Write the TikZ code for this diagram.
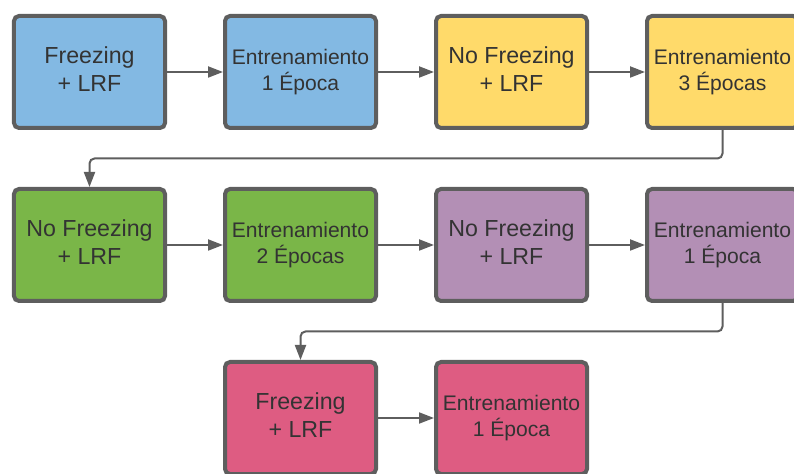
\documentclass[tikz,border=0pt]{standalone}
\usepackage{fontspec}
\setmainfont{Liberation Sans}
\usetikzlibrary{arrows.meta,positioning}
\definecolor{edgegray}{HTML}{5E5E5E}
\definecolor{textgray}{HTML}{333333}
\definecolor{stepblue}{HTML}{83B9E3}
\definecolor{stepyellow}{HTML}{FFDA6A}
\definecolor{stepgreen}{HTML}{7AB648}
\definecolor{steppurple}{HTML}{B38FB5}
\definecolor{steppink}{HTML}{DE5C82}

\begin{document}
\begin{tikzpicture}[node distance=1.14cm and 1.12cm,
  block/.style={draw=edgegray,line width=0.08cm,rounded corners=0.1cm,minimum width=3.02cm,minimum height=2.24cm,align=center,text=textgray,font=\fontsize{12}{14.7}\selectfont},
  big/.style={font=\fontsize{13.2}{15.9}\selectfont,text depth=0.12cm},
  arrow/.style={-{Triangle[length=0.3cm,width=0.22cm]},line width=0.04cm,color=edgegray}
]
  \useasboundingbox (0,0) rectangle (15.88,-9.48);
  \clip (0,0) rectangle (15.88,-9.48);
  % fila 1
  \node[block,big,fill=stepblue] (F1) at (1.79,-1.44) {Freezing\\+ LRF};
  \node[block,fill=stepblue,right=of F1] (E1) {Entrenamiento\\1 Época};
  \node[block,big,fill=stepyellow,right=of E1] (N1) {No Freezing\\+ LRF};
  \node[block,fill=stepyellow,right=of N1] (E3) {Entrenamiento\\3 Épocas};
  % fila 2
  \node[block,big,fill=stepgreen,below=of F1] (N2) {No Freezing\\+ LRF};
  \node[block,fill=stepgreen,right=of N2] (E2) {Entrenamiento\\2 Épocas};
  \node[block,big,fill=steppurple,right=of E2] (N3) {No Freezing\\+ LRF};
  \node[block,fill=steppurple,right=of N3] (E4) {Entrenamiento\\1 Época};
  % fila 3
  \node[block,big,fill=steppink,below=of E2] (F2) {Freezing\\+ LRF};
  \node[block,fill=steppink,right=of F2] (E5) {Entrenamiento\\1 Época};
  \draw[arrow] (F1) -- (E1);
  \draw[arrow] (E1) -- (N1);
  \draw[arrow] (N1) -- (E3);
  \draw[arrow,rounded corners=0.1cm] (E3.south) -- ++(0,-0.57) -| (N2.north);
  \draw[arrow] (N2) -- (E2);
  \draw[arrow] (E2) -- (N3);
  \draw[arrow] (N3) -- (E4);
  \draw[arrow,rounded corners=0.1cm] (E4.south) -- ++(0,-0.57) -| (F2.north);
  \draw[arrow] (F2) -- (E5);
\end{tikzpicture}
\end{document}
